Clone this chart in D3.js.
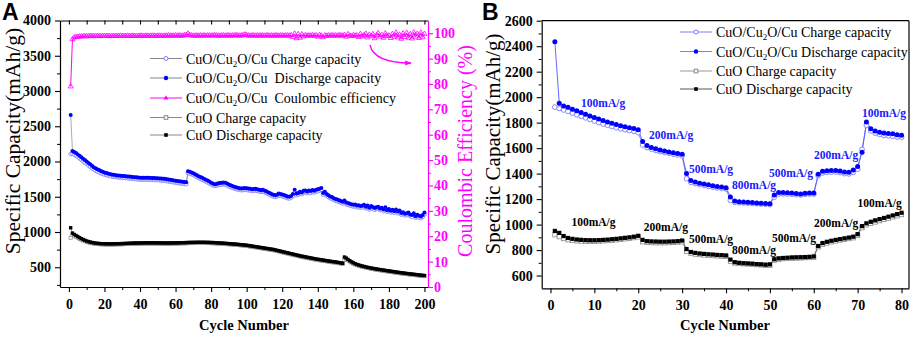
<!DOCTYPE html>
<html><head><meta charset="utf-8">
<script src="https://cdn.jsdelivr.net/npm/d3@7"></script>
<style>
body{margin:0;background:#fff}
</style></head><body>
<svg id="c" width="913" height="337"></svg>
<script>
// ---------- Panel A data (cycles 1..200) ----------
const cyclesA = d3.range(1, 201);
const aCompDischarge = [
2660,2150,2135,2120,2100,2080,2060,2040,2020,2000,
1980,1960,1940,1920,1905,1890,1878,1866,1855,1845,
1838,1830,1823,1817,1812,1807,1803,1800,1797,1795,
1793,1791,1789,1786,1783,1780,1778,1775,1772,1770,
1770,1768,1769,1771,1768,1766,1767,1765,1762,1764,
1760,1758,1757,1755,1750,1745,1740,1736,1732,1728,
1724,1720,1716,1712,1708,1704,1862,1855,1845,1835,
1820,1805,1792,1780,1768,1755,1742,1730,1715,1700,
1688,1678,1682,1690,1695,1700,1703,1698,1688,1675,
1662,1652,1643,1635,1628,1622,1618,1620,1624,1622,
1618,1612,1606,1610,1612,1608,1600,1594,1598,1590,
1578,1565,1552,1540,1530,1522,1530,1545,1540,1532,
1525,1515,1505,1500,1512,1540,1600,1545,1555,1570,
1560,1585,1590,1575,1590,1580,1595,1585,1600,1605,
1612,1625,1555,1570,1540,1520,1505,1495,1480,1468,
1460,1452,1440,1430,1448,1420,1410,1402,1395,1385,
1390,1375,1380,1368,1372,1385,1360,1375,1345,1370,
1355,1340,1352,1360,1335,1345,1320,1350,1310,1325,
1300,1315,1295,1320,1290,1305,1270,1280,1260,1265,
1275,1250,1240,1265,1225,1245,1230,1220,1240,1275];
const aCompCharge = [
2105,2115,2100,2085,2065,2045,2025,2005,1985,1965,
1945,1925,1905,1888,1872,1858,1846,1835,1825,1816,
1810,1803,1797,1791,1786,1782,1778,1775,1772,1770,
1768,1766,1764,1761,1758,1755,1753,1750,1748,1746,
1745,1744,1744,1746,1743,1741,1742,1740,1738,1739,
1735,1733,1731,1729,1724,1719,1714,1710,1706,1702,
1698,1694,1690,1686,1682,1680,1835,1830,1820,1810,
1795,1780,1767,1755,1743,1730,1717,1705,1690,1676,
1664,1655,1658,1665,1670,1675,1678,1673,1663,1650,
1638,1628,1619,1611,1604,1598,1594,1596,1600,1598,
1594,1588,1582,1586,1588,1584,1576,1570,1574,1566,
1554,1541,1528,1516,1506,1498,1506,1520,1516,1508,
1500,1490,1481,1476,1488,1510,1560,1522,1530,1545,
1538,1560,1565,1552,1565,1556,1570,1562,1575,1580,
1588,1598,1530,1545,1516,1496,1481,1470,1456,1444,
1436,1428,1416,1406,1420,1396,1386,1378,1371,1362,
1366,1351,1356,1344,1348,1360,1336,1350,1322,1345,
1331,1316,1328,1335,1311,1320,1296,1325,1287,1300,
1277,1290,1272,1295,1266,1280,1247,1256,1237,1241,
1250,1227,1217,1240,1202,1220,1207,1197,1216,1250];
const aCompCE = [
79.0,97.6,98.3,98.5,98.6,98.7,98.7,98.8,98.8,98.8,
98.8,98.9,98.9,98.8,98.9,98.9,98.9,98.8,98.9,98.9,
98.9,98.9,98.8,98.9,98.9,98.9,98.9,98.9,99.0,98.9,
98.9,98.9,99.0,98.9,98.9,99.0,98.9,98.9,98.9,99.0,
99.0,98.9,99.0,99.0,98.9,99.0,99.0,99.0,98.9,99.0,
99.0,99.0,98.9,99.0,99.0,99.1,99.0,99.0,99.0,99.1,
99.0,99.1,99.0,99.0,99.2,99.3,99.8,99.2,99.1,99.0,
99.0,99.1,99.0,99.1,99.0,99.1,99.0,99.1,99.1,99.0,
99.1,99.2,99.1,99.0,99.0,99.1,99.1,99.0,99.1,99.1,
99.0,99.1,99.1,99.2,99.1,99.0,99.1,99.2,99.5,99.2,
99.1,99.0,99.1,99.1,99.0,99.1,99.0,99.1,99.1,99.0,
99.1,99.1,99.0,99.1,99.0,99.1,99.1,99.0,99.1,99.1,
99.0,99.1,99.1,99.0,99.2,98.5,99.8,98.0,99.6,98.2,
99.5,98.7,99.2,99.0,99.1,99.0,99.2,99.0,99.1,98.6,
99.3,99.0,98.4,99.1,99.0,99.1,99.0,99.2,99.0,99.1,
99.0,99.2,99.1,99.0,99.3,98.6,99.6,99.0,98.9,99.2,
99.0,99.1,98.5,99.7,98.7,99.2,99.8,98.3,99.4,98.8,
99.6,98.0,99.2,100.0,98.6,99.3,98.2,99.9,98.9,99.1,
98.1,99.7,98.6,100.2,98.3,99.4,97.8,99.9,98.5,100.1,
98.2,99.6,97.9,100.3,98.6,99.8,98.1,100.2,98.4,99.7];
const aCuODischarge = [
1060,985,965,950,935,920,905,893,882,872,
864,857,851,846,842,839,837,835,834,833,
833,832,832,832,833,833,834,834,835,836,
837,838,839,840,841,842,843,843,844,844,
845,845,846,846,846,846,846,846,846,845,
845,845,844,844,844,844,844,845,845,846,
846,847,848,848,849,850,851,852,852,853,
853,854,854,854,854,854,853,853,852,851,
850,849,847,846,844,843,841,839,837,835,
833,831,829,827,825,822,820,817,815,812,
808,804,800,796,792,788,784,780,776,772,
768,764,760,756,752,746,740,734,728,722,
716,710,704,698,692,686,680,674,668,662,
657,652,647,642,637,632,627,622,617,613,
609,605,601,597,593,589,585,581,578,575,
570,566,561,556,645,630,610,592,576,562,
550,540,532,524,517,511,505,499,494,489,
484,479,475,471,467,463,459,455,451,447,
444,440,436,432,429,425,422,418,415,412,
409,406,403,400,397,394,391,388,385,382];
const aCuOCharge = [
920,960,948,935,920,905,892,880,870,861,
853,847,841,837,833,830,828,826,825,824,
824,823,823,823,824,824,825,825,826,827,
828,829,830,831,832,833,834,834,835,835,
836,836,837,837,837,837,837,837,837,836,
836,836,835,835,835,835,835,836,836,837,
837,838,839,839,840,841,842,843,843,844,
844,845,845,845,845,845,844,844,843,842,
841,840,838,837,835,834,832,830,828,826,
824,822,820,818,816,813,811,808,806,803,
799,795,791,787,783,779,775,771,767,763,
759,755,751,747,743,737,731,725,719,713,
707,701,695,689,683,677,671,665,659,653,
648,643,638,633,628,623,618,613,608,604,
600,596,592,588,584,580,576,572,569,566,
562,558,553,548,605,618,600,583,567,553,
541,531,523,515,508,502,496,490,485,480,
475,470,466,462,458,454,450,446,442,438,
435,431,427,423,420,416,413,409,406,403,
400,397,394,391,388,385,382,379,376,373];

// ---------- Panel B data (cycles 1..80) ----------
const cyclesB = d3.range(1, 81);
const bCompDischarge = [
2435,1953,1930,1920,1905,1893,1880,1866,1852,1840,
1828,1816,1805,1795,1785,1776,1768,1760,1755,1745,
1652,1620,1605,1595,1585,1578,1570,1563,1557,1552,
1401,1345,1335,1325,1318,1312,1305,1298,1295,1290,
1216,1185,1180,1178,1175,1173,1170,1168,1166,1163,
1232,1252,1252,1250,1248,1244,1240,1246,1247,1247,
1395,1418,1422,1424,1425,1420,1412,1410,1428,1455,
1568,1805,1752,1735,1725,1718,1715,1712,1705,1702];
const bCompCharge = [
1922,1912,1900,1888,1875,1862,1850,1838,1825,1813,
1801,1790,1780,1770,1760,1752,1745,1738,1732,1722,
1625,1605,1592,1582,1573,1566,1560,1553,1547,1540,
1360,1332,1322,1314,1307,1300,1294,1288,1285,1280,
1190,1175,1172,1170,1168,1166,1164,1162,1160,1157,
1215,1240,1242,1240,1238,1235,1233,1238,1240,1240,
1385,1405,1410,1412,1413,1408,1400,1398,1410,1435,
1590,1780,1735,1718,1708,1700,1697,1693,1688,1685];
const bCuODischarge = [
950,935,910,895,888,883,880,878,877,877,
878,880,882,885,888,892,896,900,905,912,
880,870,868,867,866,866,867,868,870,875,
808,785,778,773,770,767,765,762,760,758,
725,705,700,697,695,693,690,688,685,688,
728,735,738,740,742,743,744,745,747,750,
832,855,865,873,880,886,892,898,905,925,
988,1010,1022,1033,1043,1052,1062,1072,1082,1093];
const bCuOCharge = [
920,905,890,880,875,872,870,869,869,869,
870,872,874,877,880,884,888,892,897,903,
865,860,858,857,857,857,858,860,862,865,
790,775,768,764,761,758,756,754,752,750,
712,698,694,692,690,688,685,683,681,680,
720,728,732,734,736,737,738,740,741,743,
825,845,855,864,871,878,884,890,896,915,
975,998,1010,1020,1030,1040,1050,1060,1068,1078];

// rate annotations (label, anchor cycle, anchor capacity)
const rateLabelsBlue = ["100mA/g","200mA/g","500mA/g","800mA/g","500mA/g","200mA/g","100mA/g"];
const rateBlueCycles = [12, 27.5, 36.6, 46.4, 54.8, 65.1, 76];
const rateBlueValues = [1923, 1672, 1405, 1279, 1376, 1515, 1846];
const rateLabelsBlack = ["100mA/g","200mA/g","500mA/g","800mA/g","500mA/g","200mA/g","100mA/g"];
const rateBlackCycles = [9.8, 26.3, 36.6, 46.4, 55.5, 65.1, 75];
const rateBlackValues = [991, 952, 856, 769, 862, 983, 1138];

const ticksA_left = [500,1000,1500,2000,2500,3000,3500,4000];
const ticksA_right = [0,10,20,30,40,50,60,70,80,90,100];
const ticksA_x = [0,20,40,60,80,100,120,140,160,180,200];
const ticksB_left = [600,800,1000,1200,1400,1600,1800,2000,2200,2400,2600];
const ticksB_x = [0,10,20,30,40,50,60,70,80];

const MAG = "#ff00ff", BLUE = "#0000ff", LBLUE = "#7a7aff";
const svg = d3.select("#c");
const SERIF = "Liberation Serif";
const SANS = "Liberation Sans";
const fmt = d3.format("d");

function styleAx(g, color) {
  g.attr("font-family", SERIF).attr("font-size", 14).attr("font-weight", "bold");
  g.select(".domain").attr("stroke", color).attr("stroke-width", 1.2);
  g.selectAll(".tick line").attr("stroke", color).attr("stroke-width", 1.1);
  g.selectAll(".tick text").attr("font-family", SERIF).attr("font-weight", "bold")
    .attr("font-size", 14).attr("fill", color);
}
function minor(g, color) {
  g.select(".domain").remove();
  g.selectAll(".tick line").attr("stroke", color).attr("stroke-width", 1);
  g.selectAll("text").remove();
}
function txt(x, y, s, size, opts = {}) {
  const t = svg.append("text").attr("x", x).attr("y", y)
    .attr("font-family", opts.family || SERIF).attr("font-size", size)
    .attr("font-weight", opts.bold ? "bold" : "normal")
    .attr("fill", opts.fill || "#000").attr("text-anchor", opts.anchor || "start");
  if (opts.transform) t.attr("transform", opts.transform);
  t.text(s);
  return t;
}

// ================= PANEL A =================
const xA = d3.scaleLinear().domain([-5, 202]).range([60, 428]);
const yA = d3.scaleLinear().domain([220, 4000]).range([287, 20.5]);
const yCE = d3.scaleLinear().domain([0, 105]).range([287, 20.5]);

svg.append("g").attr("transform","translate(0,287)")
  .call(d3.axisBottom(xA).tickValues(d3.range(10,200,20)).tickSize(3).tickFormat("")).call(g=>minor(g,"#000"));
svg.append("g").attr("transform","translate(0,287)")
  .call(d3.axisBottom(xA).tickValues(ticksA_x).tickFormat(fmt).tickSize(5).tickSizeOuter(0).tickPadding(7))
  .call(g=>styleAx(g,"#000"));
svg.append("g").attr("transform","translate(0,20.5)")
  .call(d3.axisBottom(xA).tickValues(d3.range(0,201,10)).tickSize(4).tickFormat("").tickSizeOuter(0))
  .call(g=>styleAx(g,"#000"));
svg.append("g").attr("transform","translate(60,0)")
  .call(d3.axisLeft(yA).tickValues(d3.range(250,4000,500)).tickSize(3).tickFormat("")).call(g=>minor(g,"#000"));
svg.append("g").attr("transform","translate(60,0)")
  .call(d3.axisLeft(yA).tickValues(ticksA_left).tickFormat(fmt).tickSize(5).tickSizeOuter(0).tickPadding(4))
  .call(g=>styleAx(g,"#000"));
svg.append("g").attr("transform","translate(428,0)")
  .call(d3.axisRight(yCE).tickValues(d3.range(5,105,10)).tickSize(3).tickFormat("")).call(g=>minor(g,MAG));
svg.append("g").attr("transform","translate(428,0)")
  .call(d3.axisRight(yCE).tickValues(ticksA_right).tickFormat(fmt).tickSize(5).tickSizeOuter(0).tickPadding(1))
  .call(g=>styleAx(g,MAG));

const lineA = (vals, ys) => d3.line().x((d,i)=>xA(cyclesA[i])).y(d=>ys(d))(vals);
svg.append("path").attr("d", lineA(aCuOCharge, yA)).attr("fill","none").attr("stroke","#999").attr("stroke-width",0.7);
svg.append("path").attr("d", lineA(aCuODischarge, yA)).attr("fill","none").attr("stroke","#777").attr("stroke-width",0.7);
svg.append("path").attr("d", lineA(aCompCharge, yA)).attr("fill","none").attr("stroke","#999").attr("stroke-width",0.7);
svg.append("path").attr("d", lineA(aCompDischarge, yA)).attr("fill","none").attr("stroke","#888").attr("stroke-width",0.7);

svg.append("g").selectAll("rect").data(aCuOCharge).join("rect")
  .attr("x",(d,i)=>xA(cyclesA[i])-1.6).attr("y",d=>yA(d)-1.6).attr("width",3.2).attr("height",3.2)
  .attr("fill","#fff").attr("stroke","#888").attr("stroke-width",0.7);
svg.append("g").selectAll("rect").data(aCuODischarge).join("rect")
  .attr("x",(d,i)=>xA(cyclesA[i])-1.7).attr("y",d=>yA(d)-1.7).attr("width",3.4).attr("height",3.4)
  .attr("fill","#000");
svg.append("g").selectAll("circle").data(aCompCharge).join("circle")
  .attr("cx",(d,i)=>xA(cyclesA[i])).attr("cy",d=>yA(d)).attr("r",1.9)
  .attr("fill","#fff").attr("stroke",LBLUE).attr("stroke-width",0.8);
svg.append("g").selectAll("circle").data(aCompDischarge).join("circle")
  .attr("cx",(d,i)=>xA(cyclesA[i])).attr("cy",d=>yA(d)).attr("r",2)
  .attr("fill",BLUE);

svg.append("path").attr("d", lineA(aCompCE, yCE)).attr("fill","none").attr("stroke",MAG).attr("stroke-width",1);
const tri = d3.symbol().type(d3.symbolTriangle).size(11);
svg.append("g").selectAll("path").data(aCompCE).join("path")
  .attr("d", tri).attr("transform",(d,i)=>`translate(${xA(cyclesA[i])},${yCE(d)})`)
  .attr("fill","none").attr("stroke",MAG).attr("stroke-width",0.8);

svg.append("defs").append("marker").attr("id","ah").attr("viewBox","0 0 10 10").attr("refX",9).attr("refY",5)
  .attr("markerWidth",5).attr("markerHeight",5).attr("orient","auto")
  .append("path").attr("d","M0,1L10,5L0,9Z").attr("fill",MAG);
svg.append("path").attr("d","M370,45 Q374,63 411,63").attr("fill","none").attr("stroke",MAG)
  .attr("stroke-width",1.3).attr("marker-end","url(#ah)");

// legend
const legA = [
  {pre:"CuO/Cu", post:"O/Cu Charge capacity", type:"oc"},
  {pre:"CuO/Cu", post:"O/Cu\u00a0 Discharge capacity", type:"fc"},
  {pre:"CuO/Cu", post:"O/Cu\u00a0 Coulombic efficiency", type:"tri"},
  {pre:"CuO Charge capacity", post:null, type:"os"},
  {pre:"CuO Discharge capacity", post:null, type:"fs"}];
const legAy = [58.5, 78, 98, 117.5, 135];
function legendItem(x0, y, item, lineColor, textX) {
  const g = svg.append("g");
  g.append("line").attr("x1",x0).attr("x2",x0+32).attr("y1",y).attr("y2",y).attr("stroke",lineColor).attr("stroke-width",1);
  const mx = x0+16;
  if (item.type==="oc") g.append("circle").attr("cx",mx).attr("cy",y).attr("r",2).attr("fill","#fff").attr("stroke",LBLUE).attr("stroke-width",1);
  if (item.type==="fc") g.append("circle").attr("cx",mx).attr("cy",y).attr("r",2.2).attr("fill",BLUE);
  if (item.type==="tri") g.append("path").attr("d",d3.symbol().type(d3.symbolTriangle).size(10)()).attr("transform",`translate(${mx},${y})`).attr("fill",MAG);
  if (item.type==="os") g.append("rect").attr("x",mx-1.8).attr("y",y-1.8).attr("width",3.6).attr("height",3.6).attr("fill","#fff").attr("stroke","#888");
  if (item.type==="fs") g.append("rect").attr("x",mx-1.8).attr("y",y-1.8).attr("width",3.6).attr("height",3.6).attr("fill","#000");
  const t = g.append("text").attr("x",textX).attr("y",y+5)
    .attr("font-family",SERIF).attr("font-size",14).attr("fill","#000");
  t.append("tspan").text(item.pre);
  if (item.post !== null) {
    t.append("tspan").attr("font-size",9).attr("dy",3).text("2");
    t.append("tspan").attr("dy",-3).text(item.post);
  }
}
legA.forEach((it,i)=>legendItem(150, legAy[i], it, it.type==="tri"?MAG:"#888", 186));

txt(0, 0, "Specific Capacity(mAh/g)", 21.5, {anchor:"middle", transform:"translate(20,141) rotate(-90)"});
txt(0, 0, "Coulombic Efficiency (%)", 20, {anchor:"middle", fill:MAG, transform:"translate(472,151) rotate(-90)"});
txt(244, 330, "Cycle Number", 14.5, {anchor:"middle", bold:true});
txt(2, 20, "A", 23, {bold:true, family:SANS});

// ================= PANEL B =================
const xB = d3.scaleLinear().domain([-2, 81.7]).range([541.7, 909]);
const yB = d3.scaleLinear().domain([500, 2600]).range([288.3, 20.7]);

svg.append("g").attr("transform","translate(0,288.3)")
  .call(d3.axisBottom(xB).tickValues(d3.range(5,81,10)).tickSize(3).tickFormat("")).call(g=>minor(g,"#000"));
svg.append("g").attr("transform","translate(0,288.3)")
  .call(d3.axisBottom(xB).tickValues(ticksB_x).tickFormat(fmt).tickSize(5).tickSizeOuter(0).tickPadding(7))
  .call(g=>styleAx(g,"#000"));
svg.append("g").attr("transform","translate(541.7,0)")
  .call(d3.axisLeft(yB).tickValues(d3.range(700,2600,200)).tickSize(3).tickFormat("")).call(g=>minor(g,"#000"));
svg.append("g").attr("transform","translate(541.7,0)")
  .call(d3.axisLeft(yB).tickValues(ticksB_left).tickFormat(fmt).tickSize(5).tickSizeOuter(0).tickPadding(4))
  .call(g=>styleAx(g,"#000"));
svg.append("line").attr("x1",541.7).attr("x2",909).attr("y1",20.7).attr("y2",20.7).attr("stroke","#000").attr("stroke-width",1.2);
svg.append("line").attr("x1",909).attr("x2",909).attr("y1",20.7).attr("y2",288.3).attr("stroke","#000").attr("stroke-width",1.2);

const lineB = (vals) => d3.line().x((d,i)=>xB(cyclesB[i])).y(d=>yB(d))(vals);
svg.append("path").attr("d", lineB(bCuOCharge)).attr("fill","none").attr("stroke","#999").attr("stroke-width",0.9);
svg.append("path").attr("d", lineB(bCuODischarge)).attr("fill","none").attr("stroke","#555").attr("stroke-width",0.9);
svg.append("path").attr("d", lineB(bCompCharge)).attr("fill","none").attr("stroke",LBLUE).attr("stroke-width",0.9);
svg.append("path").attr("d", lineB(bCompDischarge)).attr("fill","none").attr("stroke","#5555ff").attr("stroke-width",0.9);

svg.append("g").selectAll("rect").data(bCuOCharge).join("rect")
  .attr("x",(d,i)=>xB(cyclesB[i])-2.1).attr("y",d=>yB(d)-2.1).attr("width",4.2).attr("height",4.2)
  .attr("fill","#fff").attr("stroke","#888").attr("stroke-width",0.8);
svg.append("g").selectAll("rect").data(bCuODischarge).join("rect")
  .attr("x",(d,i)=>xB(cyclesB[i])-2.1).attr("y",d=>yB(d)-2.1).attr("width",4.2).attr("height",4.2)
  .attr("fill","#000");
svg.append("g").selectAll("circle").data(bCompCharge).join("circle")
  .attr("cx",(d,i)=>xB(cyclesB[i])).attr("cy",d=>yB(d)).attr("r",2.4)
  .attr("fill","#fff").attr("stroke",LBLUE).attr("stroke-width",0.9);
svg.append("g").selectAll("circle").data(bCompDischarge).join("circle")
  .attr("cx",(d,i)=>xB(cyclesB[i])).attr("cy",d=>yB(d)).attr("r",2.5)
  .attr("fill",BLUE);

rateLabelsBlue.forEach((s,i)=>txt(xB(rateBlueCycles[i]), yB(rateBlueValues[i]), s, 11.5, {anchor:"middle", bold:true, fill:"#1a1aff"}));
rateLabelsBlack.forEach((s,i)=>txt(xB(rateBlackCycles[i]), yB(rateBlackValues[i]), s, 11.5, {anchor:"middle", bold:true}));

const legB = [
  {pre:"CuO/Cu", post:"O/Cu Charge capacity", type:"oc", lc:LBLUE},
  {pre:"CuO/Cu", post:"O/Cu Discharge capacity", type:"fc", lc:LBLUE},
  {pre:"CuO Charge capacity", post:null, type:"os", lc:"#999"},
  {pre:"CuO Discharge capacity", post:null, type:"fs", lc:"#555"}];
const legBy = [32, 51.5, 71, 89];
legB.forEach((it,i)=>legendItem(680, legBy[i], it, it.lc, 716));

txt(0, 0, "Specific Capacity(mAh/g)", 21, {anchor:"middle", transform:"translate(500,144) rotate(-90)"});
txt(725, 330, "Cycle Number", 14.5, {anchor:"middle", bold:true});
txt(482, 20, "B", 23, {bold:true, family:SANS});
</script>
</body></html>
